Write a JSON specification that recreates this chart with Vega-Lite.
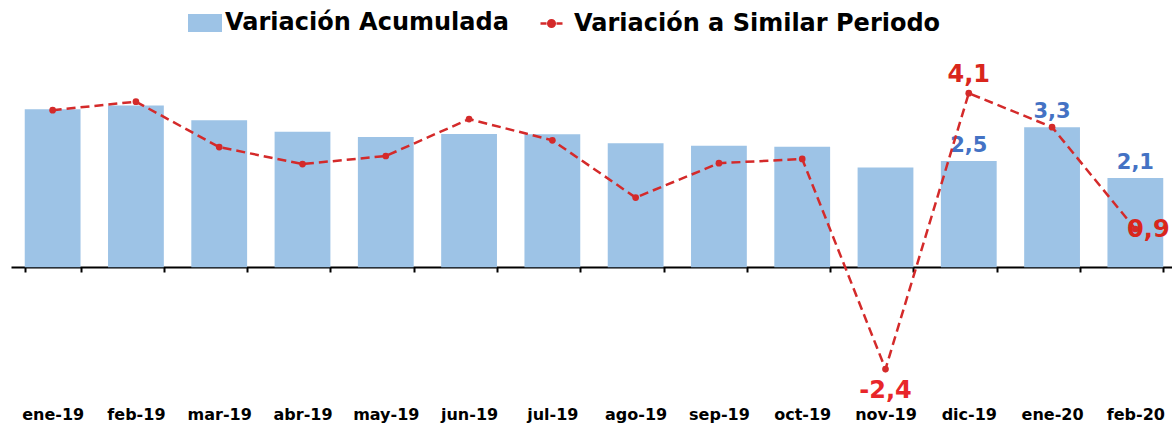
{
  "$schema": "https://vega.github.io/schema/vega-lite/v6.json",
  "width": 1166,
  "height": 348,
  "autosize": {"type": "none"},
  "padding": {"left": 11, "top": 55, "right": 0, "bottom": 20},
  "background": "white",
  "config": {
    "view": {"stroke": null},
    "locale": {
      "number": {"decimal": ",", "thousands": ".", "grouping": [3], "currency": ["", ""], "minus": "-"}
    }
  },
  "data": {
    "values": [
      {"mes": "ene-19", "acumulada": 3.72, "similar": 3.70},
      {"mes": "feb-19", "acumulada": 3.81, "similar": 3.90},
      {"mes": "mar-19", "acumulada": 3.46, "similar": 2.83},
      {"mes": "abr-19", "acumulada": 3.19, "similar": 2.43},
      {"mes": "may-19", "acumulada": 3.07, "similar": 2.62},
      {"mes": "jun-19", "acumulada": 3.14, "similar": 3.49},
      {"mes": "jul-19", "acumulada": 3.13, "similar": 2.99},
      {"mes": "ago-19", "acumulada": 2.92, "similar": 1.64},
      {"mes": "sep-19", "acumulada": 2.86, "similar": 2.45},
      {"mes": "oct-19", "acumulada": 2.84, "similar": 2.55},
      {"mes": "nov-19", "acumulada": 2.35, "similar": -2.4},
      {"mes": "dic-19", "acumulada": 2.5, "similar": 4.1},
      {"mes": "ene-20", "acumulada": 3.3, "similar": 3.3},
      {"mes": "feb-20", "acumulada": 2.1, "similar": 0.9}
    ]
  },
  "encoding": {
    "x": {
      "field": "mes",
      "type": "nominal",
      "sort": null,
      "scale": {"paddingInner": 0.33, "paddingOuter": 0.165},
      "axis": {
        "title": null,
        "orient": "bottom",
        "offset": -136,
        "domainColor": "#000000",
        "domainWidth": 2,
        "tickColor": "#000000",
        "tickWidth": 2,
        "tickSize": 5,
        "tickBand": "extent",
        "labelAngle": 0,
        "labelPadding": 134,
        "labelFont": "DejaVu Sans",
        "labelFontWeight": "bold",
        "labelFontSize": 16,
        "labelColor": "#000000"
      }
    }
  },
  "layer": [
    {
      "mark": {"type": "bar"},
      "encoding": {
        "y": {"field": "acumulada", "type": "quantitative", "scale": {"domain": [-3.2, 5.0], "nice": false, "zero": false}, "axis": null},
        "fill": {
          "datum": "Variación Acumulada",
          "scale": {"range": ["#9DC3E6"]},
          "legend": {
            "title": null,
            "orient": "none",
            "legendX": 177,
            "legendY": -49,
            "padding": 0,
            "symbolType": "M-1,-0.53H1V0.53H-1Z",
            "symbolSize": 1156,
            "symbolStrokeWidth": 0,
            "symbolOpacity": 1,
            "labelFont": "DejaVu Sans",
            "labelFontWeight": "bold",
            "labelFontSize": 24,
            "labelColor": "#000000",
            "labelOffset": 3,
            "labelLimit": 500
          }
        }
      }
    },
    {
      "transform": [{"filter": "datum.mes == 'dic-19' || datum.mes == 'ene-20' || datum.mes == 'feb-20'"}],
      "mark": {"type": "text", "font": "DejaVu Sans", "fontWeight": "bold", "fontSize": 21, "color": "#4472C4", "baseline": "alphabetic", "dy": -9},
      "encoding": {
        "y": {"field": "acumulada", "type": "quantitative"},
        "text": {"field": "acumulada", "type": "quantitative", "format": ".1f"}
      }
    },
    {
      "mark": {"type": "line", "strokeDash": [9, 5], "strokeWidth": 2.5},
      "encoding": {
        "y": {"field": "similar", "type": "quantitative"},
        "stroke": {
          "datum": "Variación a Similar Periodo",
          "scale": {"range": ["#D42A2A"]},
          "legend": {
            "title": null,
            "orient": "none",
            "legendX": 528,
            "legendY": -44,
            "padding": 0,
            "symbolType": "M-1,0H-0.45M0.45,0H1M0.3,0A0.3,0.3 0 1 1 -0.3,0A0.3,0.3 0 1 1 0.3,0Z",
            "symbolSize": 484,
            "symbolStrokeWidth": 2.5,
            "symbolFillColor": "#D42A2A",
            "symbolDash": [100, 0],
            "labelFont": "DejaVu Sans",
            "labelFontWeight": "bold",
            "labelFontSize": 24,
            "labelColor": "#000000",
            "labelOffset": 10,
            "labelLimit": 500
          }
        }
      }
    },
    {
      "mark": {"type": "circle", "size": 45, "opacity": 1, "color": "#D42A2A"},
      "encoding": {
        "y": {"field": "similar", "type": "quantitative"}
      }
    },
    {
      "transform": [{"filter": "datum.mes == 'dic-19'"}],
      "mark": {"type": "text", "font": "DejaVu Sans", "fontWeight": "bold", "fontSize": 24, "color": "#D9261C", "baseline": "alphabetic", "dy": -11},
      "encoding": {
        "y": {"field": "similar", "type": "quantitative"},
        "text": {"field": "similar", "type": "quantitative", "format": ".1f"}
      }
    },
    {
      "transform": [{"filter": "datum.mes == 'nov-19'"}],
      "mark": {"type": "text", "font": "DejaVu Sans", "fontWeight": "bold", "fontSize": 24, "color": "#E8262A", "baseline": "alphabetic", "dy": 29},
      "encoding": {
        "y": {"field": "similar", "type": "quantitative"},
        "text": {"field": "similar", "type": "quantitative", "format": ".1f"}
      }
    },
    {
      "transform": [{"filter": "datum.mes == 'feb-20'"}],
      "mark": {"type": "text", "font": "DejaVu Sans", "fontWeight": "bold", "fontSize": 24, "color": "#D9261C", "baseline": "middle", "dx": 13, "dy": 1},
      "encoding": {
        "y": {"field": "similar", "type": "quantitative"},
        "text": {"field": "similar", "type": "quantitative", "format": ".1f"}
      }
    }
  ]
}
